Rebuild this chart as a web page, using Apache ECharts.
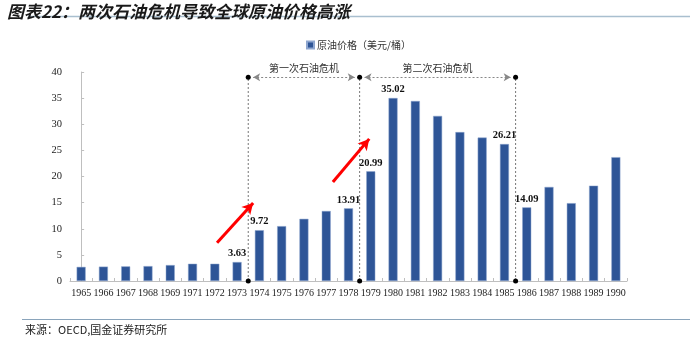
<!DOCTYPE html>
<html>
<head>
<meta charset="utf-8">
<script src="https://cdn.jsdelivr.net/npm/echarts@6/dist/echarts.min.js"></script>
<style>html,body{margin:0;padding:0;background:#fff;}#c{width:694px;height:338px;}</style>
</head>
<body>
<div id="c"></div>
<script>
var years = ['1965','1966','1967','1968','1969','1971','1972','1973','1974','1975','1976','1977','1978','1979','1980','1981','1982','1983','1984','1985','1986','1987','1988','1989','1990'];
var prices = [2.7, 2.75, 2.8, 2.85, 3.05, 3.3, 3.3, 3.63, 9.72, 10.5, 11.9, 13.4, 13.91, 20.99, 35.02, 34.45, 31.6, 28.5, 27.45, 26.21, 14.09, 18.0, 14.9, 18.25, 23.7];
var labelledYears = ['1973','1974','1978','1979','1980','1985','1986'];
var seriesName = '原油价格（美元/桶）';
var titleText = '图表22：两次石油危机导致全球原油价格高涨';
var sourceText = '来源：OECD,国金证券研究所';
var crisisNames = ['第一次石油危机', '第二次石油危机'];
// crisis boundaries, in category-index units (between bars)
var crisisBounds = [7.5, 12.5, 19.5];
var crisisTop = 39;
// red arrows [x0,y0,x1,y1] in axis units
var redArrows = [[6.1, 7.3, 7.72, 14.95], [11.3, 18.95, 12.93, 27.2]];

var serif = '"Liberation Serif","DejaVu Serif",serif';
var cjk = '"Noto Sans CJK SC","Noto Sans",sans-serif';

var chart = echarts.init(document.getElementById('c'), null, {renderer: 'canvas'});

var barData = prices.map(function (v, i) {
  var show = labelledYears.indexOf(years[i]) >= 0;
  return {value: v, label: {show: show}};
});

var series = [{
  name: seriesName,
  type: 'bar',
  data: barData,
  barWidth: 9,
  itemStyle: {color: '#2E5597', borderColor: '#8ea6cf', borderWidth: 0.5},
  label: {
    position: 'top', distance: 3,
    color: '#111', fontWeight: 'bold', fontSize: 10.5, fontFamily: serif,
    formatter: function (p) { return p.value.toFixed(2); }
  },
  z: 2
}];

crisisBounds.forEach(function (b) {
  series.push({
    type: 'line', xAxisIndex: 1, yAxisIndex: 0,
    data: [[b, 0], [b, crisisTop]],
    symbol: 'circle', symbolSize: 5, showSymbol: true,
    itemStyle: {color: '#000'},
    lineStyle: {color: '#777', width: 1, type: [2, 2]},
    silent: true, z: 3
  });
});

var hArrows = [];
for (var k = 0; k < crisisNames.length; k++) {
  hArrows.push([
    {coord: [crisisBounds[k] + 0.22, crisisTop], label: {formatter: crisisNames[k]}},
    {coord: [crisisBounds[k + 1] - 0.22, crisisTop]}
  ]);
}
series.push({
  type: 'line', xAxisIndex: 1, yAxisIndex: 0, data: [], silent: true, z: 3,
  markLine: {
    silent: true, animation: false,
    symbol: ['arrow', 'arrow'], symbolSize: [6, 7],
    lineStyle: {color: '#888', width: 1, type: [2, 2]},
    label: {show: true, position: 'insideMiddleTop', distance: 4, color: '#333', fontSize: 10, fontFamily: cjk},
    data: hArrows
  }
});
series.push({
  type: 'line', xAxisIndex: 1, yAxisIndex: 0, data: [], silent: true, z: 4,
  markLine: {
    silent: true, animation: false,
    symbol: ['none', 'arrow'], symbolSize: [9, 11],
    lineStyle: {color: '#ff0000', width: 3, type: 'solid'},
    itemStyle: {color: '#ff0000'},
    label: {show: false},
    data: redArrows.map(function (a) { return [{coord: [a[0], a[1]]}, {coord: [a[2], a[3]]}]; })
  }
});

chart.setOption({
  animation: false,
  backgroundColor: '#fff',
  title: {
    text: titleText, left: 2, top: -2,
    textStyle: {fontSize: 17, fontWeight: 'bold', fontStyle: 'italic', color: '#1a1a1a', fontFamily: cjk}
  },
  legend: {
    data: [seriesName], left: 301, top: 35,
    icon: 'rect', itemWidth: 7, itemHeight: 7, itemGap: 4,
    textStyle: {fontSize: 10, color: '#333', fontFamily: cjk, padding: [0, 0, 0, -2]}
  },
  grid: {left: 70, right: 67, top: 72, bottom: 57, containLabel: false},
  xAxis: [{
    type: 'category', data: years,
    axisLine: {lineStyle: {color: '#bfbfbf'}},
    axisTick: {show: true, inside: true, length: 3, lineStyle: {color: '#bfbfbf'}},
    axisLabel: {color: '#222', fontSize: 10, fontFamily: serif, margin: 7, interval: 0}
  }, {
    type: 'value', min: -0.5, max: 24.5, show: false
  }],
  yAxis: [{
    type: 'value', min: 0, max: 40, interval: 5,
    axisLine: {show: true, lineStyle: {color: '#bfbfbf'}},
    axisTick: {show: true, inside: true, length: 3, lineStyle: {color: '#bfbfbf'}},
    splitLine: {show: false},
    axisLabel: {color: '#222', fontSize: 10.5, fontFamily: serif, margin: 8}
  }],
  graphic: [
    {type: 'line', shape: {x1: 28, y1: 16.5, x2: 690, y2: 16.5}, style: {stroke: '#a9bfcf', lineWidth: 1.5}},
    {type: 'line', shape: {x1: 22, y1: 319.5, x2: 690, y2: 319.5}, style: {stroke: '#8aa4bb', lineWidth: 1}},
    {type: 'text', left: 25, top: 324, style: {text: sourceText, fontSize: 11, fill: '#222', fontFamily: cjk}}
  ],
  series: series
});
</script>
</body>
</html>
